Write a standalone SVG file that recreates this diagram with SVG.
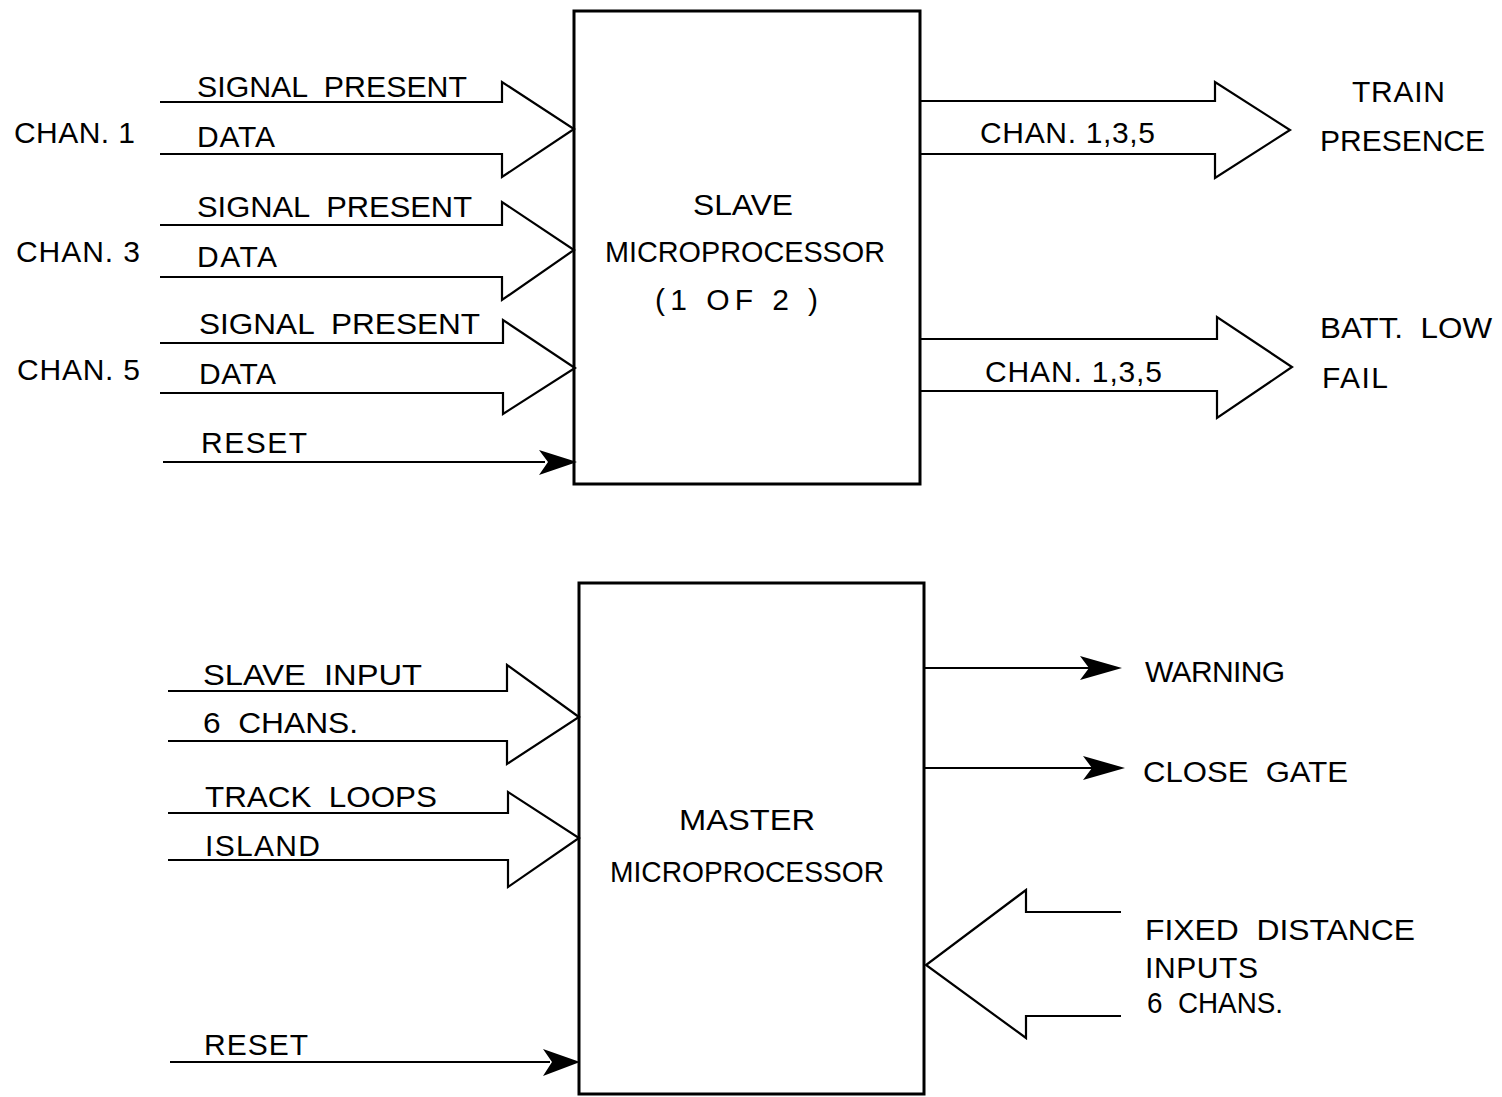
<svg xmlns="http://www.w3.org/2000/svg" width="1502" height="1097" viewBox="0 0 1502 1097" xml:space="preserve">
<style>
  text { font-family: "Liberation Sans", Arial, sans-serif; font-size: 30px; fill: #000; white-space: pre; }
  .box { fill: #fff; stroke: #000; stroke-width: 3; }
  .fat { fill: none; stroke: #000; stroke-width: 2.2; stroke-linejoin: miter; }
  .wire { fill: none; stroke: #000; stroke-width: 2.2; }
  .head { fill: #000; stroke: none; }
</style>
<rect width="1502" height="1097" fill="#fff"/>

<g id="slave">
  <rect class="box" x="574" y="11" width="346" height="473"/>
  <text x="693" y="215" textLength="100" lengthAdjust="spacingAndGlyphs">SLAVE</text>
  <text x="605" y="262" textLength="280" lengthAdjust="spacingAndGlyphs">MICROPROCESSOR</text>
  <text x="655" y="310" textLength="163" lengthAdjust="spacing">(1 OF 2 )</text>
</g>

<g id="master">
  <rect class="box" x="579" y="583" width="345" height="511"/>
  <text x="679" y="830" textLength="136" lengthAdjust="spacingAndGlyphs">MASTER</text>
  <text x="610" y="882" textLength="274" lengthAdjust="spacingAndGlyphs">MICROPROCESSOR</text>
</g>

<g id="slave-input-labels">
  <text x="14" y="143" textLength="121" lengthAdjust="spacing">CHAN. 1</text>
  <text x="16" y="262" textLength="124" lengthAdjust="spacing">CHAN. 3</text>
  <text x="17" y="380" textLength="123" lengthAdjust="spacing">CHAN. 5</text>
  <text x="197" y="97" textLength="270" lengthAdjust="spacingAndGlyphs">SIGNAL  PRESENT</text>
  <text x="197" y="147" textLength="78" lengthAdjust="spacing">DATA</text>
  <text x="197" y="217" textLength="275" lengthAdjust="spacingAndGlyphs">SIGNAL  PRESENT</text>
  <text x="197" y="267" textLength="80" lengthAdjust="spacing">DATA</text>
  <text x="199" y="334" textLength="281" lengthAdjust="spacingAndGlyphs">SIGNAL  PRESENT</text>
  <text x="199" y="384" textLength="77" lengthAdjust="spacing">DATA</text>
  <text x="201" y="453" textLength="106" lengthAdjust="spacing">RESET</text>
</g>

<g id="slave-output-labels">
  <text x="980" y="143" textLength="175" lengthAdjust="spacing">CHAN. 1,3,5</text>
  <text x="1352" y="102" textLength="93" lengthAdjust="spacing">TRAIN</text>
  <text x="1320" y="151" textLength="165" lengthAdjust="spacing">PRESENCE</text>
  <text x="985" y="382" textLength="177" lengthAdjust="spacing">CHAN. 1,3,5</text>
  <text x="1320" y="338" textLength="172" lengthAdjust="spacingAndGlyphs">BATT.  LOW</text>
  <text x="1322" y="388" textLength="66" lengthAdjust="spacing">FAIL</text>
</g>

<g id="master-input-labels">
  <text x="203" y="685" textLength="219" lengthAdjust="spacingAndGlyphs">SLAVE  INPUT</text>
  <text x="203" y="733" textLength="155" lengthAdjust="spacingAndGlyphs">6  CHANS.</text>
  <text x="205" y="807" textLength="232" lengthAdjust="spacingAndGlyphs">TRACK  LOOPS</text>
  <text x="205" y="856" textLength="115" lengthAdjust="spacing">ISLAND</text>
  <text x="204" y="1055" textLength="104" lengthAdjust="spacing">RESET</text>
</g>

<g id="master-output-labels">
  <text x="1145" y="682" textLength="140" lengthAdjust="spacing">WARNING</text>
  <text x="1143" y="782" textLength="205" lengthAdjust="spacingAndGlyphs">CLOSE  GATE</text>
  <text x="1145" y="940" textLength="270" lengthAdjust="spacingAndGlyphs">FIXED  DISTANCE</text>
  <text x="1145" y="978" textLength="113" lengthAdjust="spacing">INPUTS</text>
  <text x="1147" y="1013" textLength="136" lengthAdjust="spacingAndGlyphs">6  CHANS.</text>
</g>

<g id="connectors">
  <path class="fat" d="M160,102 H502 V82 L574,129 L502,177 V154 H160"/>
  <path class="fat" d="M160,225 H502 V202 L574,250 L502,300 V277 H160"/>
  <path class="fat" d="M160,343 H503 V320 L575,368 L503,414 V393 H160"/>
  <path class="wire" d="M163,462 H545"/>
  <polygon class="head" points="577,462 539,450 548,462 539,475"/>
  <path class="fat" d="M920,101 H1215 V82 L1290,130 L1215,178 V154 H920"/>
  <path class="fat" d="M920,339 H1217 V317 L1292,367 L1217,418 V391 H920"/>
  <path class="fat" d="M168,691 H507 V665 L579,717 L507,764 V741 H168"/>
  <path class="fat" d="M168,813 H508 V792 L579,838 L508,887 V860 H168"/>
  <path class="wire" d="M170,1062 H550"/>
  <polygon class="head" points="580,1062 543,1049 552,1062 543,1076"/>
  <path class="wire" d="M924,668 H1092"/>
  <polygon class="head" points="1122,668 1080,656 1089,668 1080,680"/>
  <path class="wire" d="M924,768 H1094"/>
  <polygon class="head" points="1125,768 1083,756 1092,768 1083,780"/>
  <path class="fat" d="M1121,912 H1026 V890 L926,965 L1026,1038 V1016 H1121"/>
</g>
</svg>
